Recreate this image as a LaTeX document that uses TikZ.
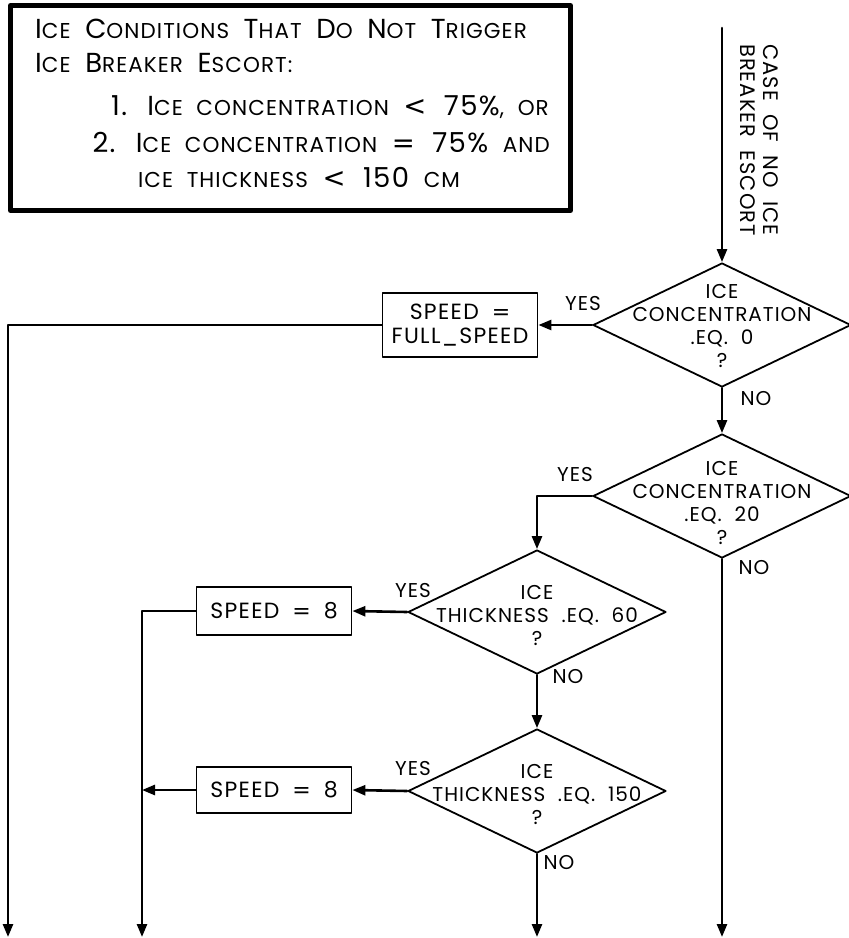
\documentclass[tikz,border=0pt]{standalone}
\usepackage{fontspec}
\setmainfont{Poppins}[LetterSpace=5,WordSpace=2]
\newfontfamily\notefont{Poppins}[LetterSpace=5,WordSpace=2]
\newfontfamily\boxfont{Poppins}[LetterSpace=6,WordSpace=1.8]
\newfontfamily\symfont{DejaVu Sans}
\usetikzlibrary{shapes.geometric,arrows.meta}
\newcommand\bigc[1]{{\fontsize{27.5}{30}\selectfont #1}}
\newcommand\smc[1]{{\fontsize{21.5}{24}\selectfont #1}}
\newcommand\sym[1]{{\symfont #1}}
\begin{document}
\begin{tikzpicture}[x=1pt,y=-1pt,line cap=round,line join=round,
  font=\fontsize{20}{23}\selectfont,
  flow/.style={line width=2.6pt,-{Triangle[length=13pt,width=10pt]}},
  decision/.style={diamond,draw,line width=1.8pt,minimum width=258pt,minimum height=124pt,inner sep=0pt},
  speedbox/.style={rectangle,draw,line width=1.8pt,minimum width=155pt,align=center,inner sep=0pt,
    font=\boxfont\fontsize{22}{24}\selectfont},
  qtext/.style={align=center,inner sep=0pt},
  notetext/.style={inner sep=0pt,font=\notefont\fontsize{23}{26}\selectfont},
  tag/.style={inner sep=0pt}]
  \useasboundingbox (0,0) rectangle (849,938);
  \node[draw,line width=5pt,minimum width=560pt,minimum height=205pt,inner sep=0pt,anchor=north west] (note) at (8,3) {};
  \node[notetext,anchor=base west] (n1) at (35,38) {\bigc{I}\smc{CE} \bigc{C}\smc{ONDITIONS} \bigc{T}\smc{HAT} \bigc{D}\smc{O} \bigc{N}\smc{OT} \bigc{T}\smc{RIGGER}};
  \node[notetext,anchor=base west] (n2) at (35,72) {\bigc{I}\smc{CE} \bigc{B}\smc{REAKER} \bigc{E}\smc{SCORT:}};
  \node[notetext,anchor=base east] (n3) at (549,115) {\bigc{1. I}\smc{CE CONCENTRATION} \bigc{\sym{<} 75\%}\smc{, OR}};
  \node[notetext,anchor=base east] (n4) at (550,152) {\bigc{2. I}\smc{CE CONCENTRATION} \bigc{\sym{=} 75\%} \smc{AND}};
  \node[notetext,anchor=base] (n5) at (299,187) {\smc{ICE THICKNESS} \bigc{\sym{<} 150} \smc{CM}};
  \node[tag,rotate=-90,align=left,font=\fontsize{21}{23}\selectfont] (case) at (759,140) {CASE OF NO ICE\\BREAKER ESCORT};
  \coordinate (top) at (722,28);
  \node[decision] (q1) at (722,325) {};
  \node[qtext] (q1t) at (722,326) {ICE\\CONCENTRATION\\.EQ. 0\\?};
  \node[speedbox,minimum height=64pt] (s1) at (460,325) {SPEED \sym{=}\\FULL\_SPEED};
  \node[decision] (q2) at (722,496) {};
  \node[qtext] (q2t) at (722,503) {ICE\\CONCENTRATION\\.EQ. 20\\?};
  \node[decision] (q3) at (537,612) {};
  \node[qtext] (q3t) at (537,615) {ICE\\THICKNESS .EQ. 60\\?};
  \node[speedbox,minimum height=48pt] (s2) at (274,611) {SPEED \sym{=} 8};
  \node[decision] (q4) at (537,791) {};
  \node[qtext] (q4t) at (537,794) {ICE\\THICKNESS .EQ. 150\\?};
  \node[speedbox,minimum height=46pt] (s3) at (274,790) {SPEED \sym{=} 8};
  \coordinate (e1) at (8,937);
  \coordinate (e2) at (142,937);
  \coordinate (e3) at (537,937);
  \coordinate (e4) at (722,937);
  \node[tag] (y1) at (583,304) {YES};
  \node[tag] (no1) at (756,399) {NO};
  \node[tag] (y2) at (575,475) {YES};
  \node[tag] (no2) at (754,568) {NO};
  \node[tag] (y3) at (413,591) {YES};
  \node[tag] (no3) at (568,677) {NO};
  \node[tag] (y4) at (413,768) {YES};
  \node[tag] (no4) at (559,863) {NO};
  \draw[flow] (top) -- (q1.north);
  \draw[flow] (q1.west) -- (s1.east);
  \draw[flow] (s1.west) -| (e1);
  \draw[flow] (q1.south) -- (q2.north);
  \draw[flow] (q2.west) -| (q3.north);
  \draw[flow] (q2.south) -- (e4);
  \draw[flow] (q3.west) -- (s2.east);
  \draw[flow] (s2.west) -| (e2);
  \draw[flow] (q3.south) -- (q4.north);
  \draw[flow] (q4.west) -- (s3.east);
  \draw[flow] (s3.west) -- (s3.west -| e2);
  \draw[flow] (q4.south) -- (e3);
\end{tikzpicture}
\end{document}
